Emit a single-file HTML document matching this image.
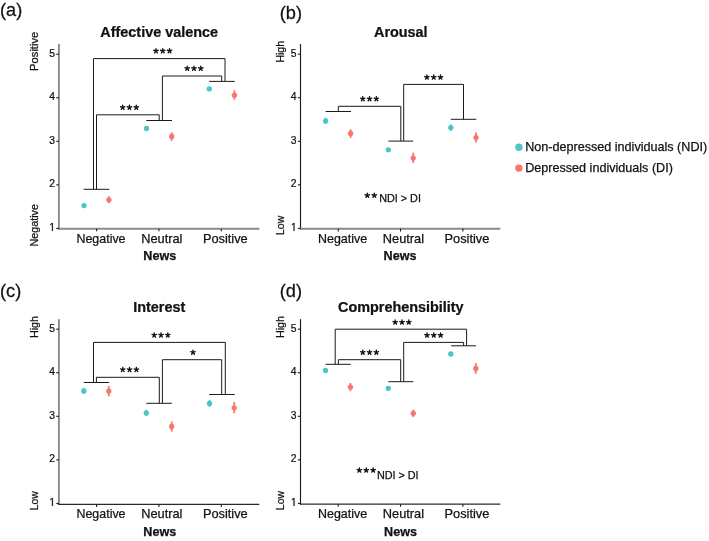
<!DOCTYPE html>
<html><head><meta charset="utf-8"><style>
html,body{margin:0;padding:0;background:#fff;}
svg{display:block;font-family:"Liberation Sans", sans-serif;will-change:transform;filter:blur(0.3px);}
text{stroke:#111;stroke-width:0.25px;paint-order:stroke;}
</style></head><body>
<svg width="709" height="541" viewBox="0 0 709 541">
<rect width="709" height="541" fill="#fff"/>
<line x1="58.9" y1="44" x2="58.9" y2="229.65" stroke="#8a8a8a" stroke-width="1.9"/>
<line x1="57.95" y1="228.7" x2="259.4" y2="228.7" stroke="#8a8a8a" stroke-width="1.9"/>
<line x1="56.3" y1="228.4" x2="58.9" y2="228.4" stroke="#1a1a1a" stroke-width="1.1"/>
<path transform="translate(49.34,230.90) scale(0.005054,-0.005615)" d="M515 0L515 1237L197 1010L197 1180L530 1409L696 1409L696 0Z" fill="#111" stroke="#111" stroke-width="44.5"/>
<line x1="56.3" y1="184.85" x2="58.9" y2="184.85" stroke="#1a1a1a" stroke-width="1.1"/>
<text transform="translate(55,187.35) scale(0.9,1)" font-size="11.5" text-anchor="end" font-weight="normal" fill="#111" >2</text>
<line x1="56.3" y1="141.3" x2="58.9" y2="141.3" stroke="#1a1a1a" stroke-width="1.1"/>
<text transform="translate(55,143.8) scale(0.9,1)" font-size="11.5" text-anchor="end" font-weight="normal" fill="#111" >3</text>
<line x1="56.3" y1="97.75" x2="58.9" y2="97.75" stroke="#1a1a1a" stroke-width="1.1"/>
<text transform="translate(55,100.25) scale(0.9,1)" font-size="11.5" text-anchor="end" font-weight="normal" fill="#111" >4</text>
<line x1="56.3" y1="54.2" x2="58.9" y2="54.2" stroke="#1a1a1a" stroke-width="1.1"/>
<text transform="translate(55,56.7) scale(0.9,1)" font-size="11.5" text-anchor="end" font-weight="normal" fill="#111" >5</text>
<line x1="96.6" y1="228.7" x2="96.6" y2="231.3" stroke="#1a1a1a" stroke-width="1.1"/>
<text transform="translate(101,242.7) scale(0.972,1)" font-size="12.8" text-anchor="middle" font-weight="normal" fill="#111" >Negative</text>
<line x1="158.95" y1="228.7" x2="158.95" y2="231.3" stroke="#1a1a1a" stroke-width="1.1"/>
<text x="161.85" y="242.7" font-size="12.8" text-anchor="middle" font-weight="normal" fill="#111" >Neutral</text>
<line x1="221.3" y1="228.7" x2="221.3" y2="231.3" stroke="#1a1a1a" stroke-width="1.1"/>
<text x="225.3" y="242.7" font-size="12.8" text-anchor="middle" font-weight="normal" fill="#111" >Positive</text>
<text x="159.8" y="259.7" font-size="12.6" text-anchor="middle" font-weight="bold" fill="#111" >News</text>
<text transform="translate(159.2,36.6) scale(1.015,1)" font-size="14.2" text-anchor="middle" font-weight="bold" fill="#111" >Affective valence</text>
<text transform="translate(38.1,51.3) rotate(-90) scale(1.0,1)" font-size="11.2" text-anchor="middle" fill="#111">Positive</text>
<text transform="translate(38.1,225.3) rotate(-90) scale(0.96,1)" font-size="11.2" text-anchor="middle" fill="#111">Negative</text>
<text transform="translate(0,15.6) scale(0.985,1)" font-size="18.5" text-anchor="start" font-weight="normal" fill="#111" >(a)</text>
<line x1="83.7" y1="189.3" x2="109.2" y2="189.3" stroke="#1a1a1a" stroke-width="1.0"/>
<line x1="146.3" y1="120.5" x2="172" y2="120.5" stroke="#1a1a1a" stroke-width="1.0"/>
<line x1="209.2" y1="81.4" x2="234.8" y2="81.4" stroke="#1a1a1a" stroke-width="1.0"/>
<polyline points="93.5,189.3 93.5,58.6 225,58.6 225,81.4" fill="none" stroke="#1a1a1a" stroke-width="1.0" stroke-linejoin="round"/>
<polyline points="96.5,189.3 96.5,114.8 159.2,114.8 159.2,120.5" fill="none" stroke="#1a1a1a" stroke-width="1.0" stroke-linejoin="round"/>
<polyline points="162.4,120.5 162.4,76 221.7,76 221.7,81.4" fill="none" stroke="#1a1a1a" stroke-width="1.0" stroke-linejoin="round"/>
<path d="M155.95 50.96L155.95 48.66M155.95 50.96L158.14 50.25M155.95 50.96L157.30 52.83M155.95 50.96L154.60 52.83M155.95 50.96L153.76 50.25" stroke="#111" stroke-width="1.35" stroke-linecap="round" fill="none"/>
<path d="M162.75 50.96L162.75 48.66M162.75 50.96L164.94 50.25M162.75 50.96L164.10 52.83M162.75 50.96L161.40 52.83M162.75 50.96L160.56 50.25" stroke="#111" stroke-width="1.35" stroke-linecap="round" fill="none"/>
<path d="M169.55 50.96L169.55 48.66M169.55 50.96L171.74 50.25M169.55 50.96L170.90 52.83M169.55 50.96L168.20 52.83M169.55 50.96L167.36 50.25" stroke="#111" stroke-width="1.35" stroke-linecap="round" fill="none"/>
<path d="M122.65 107.46L122.65 105.16M122.65 107.46L124.84 106.75M122.65 107.46L124.00 109.33M122.65 107.46L121.30 109.33M122.65 107.46L120.46 106.75" stroke="#111" stroke-width="1.35" stroke-linecap="round" fill="none"/>
<path d="M129.45 107.46L129.45 105.16M129.45 107.46L131.64 106.75M129.45 107.46L130.80 109.33M129.45 107.46L128.10 109.33M129.45 107.46L127.26 106.75" stroke="#111" stroke-width="1.35" stroke-linecap="round" fill="none"/>
<path d="M136.25 107.46L136.25 105.16M136.25 107.46L138.44 106.75M136.25 107.46L137.60 109.33M136.25 107.46L134.90 109.33M136.25 107.46L134.06 106.75" stroke="#111" stroke-width="1.35" stroke-linecap="round" fill="none"/>
<path d="M187.20 68.46L187.20 66.16M187.20 68.46L189.39 67.75M187.20 68.46L188.55 70.33M187.20 68.46L185.85 70.33M187.20 68.46L185.01 67.75" stroke="#111" stroke-width="1.35" stroke-linecap="round" fill="none"/>
<path d="M194.00 68.46L194.00 66.16M194.00 68.46L196.19 67.75M194.00 68.46L195.35 70.33M194.00 68.46L192.65 70.33M194.00 68.46L191.81 67.75" stroke="#111" stroke-width="1.35" stroke-linecap="round" fill="none"/>
<path d="M200.80 68.46L200.80 66.16M200.80 68.46L202.99 67.75M200.80 68.46L202.15 70.33M200.80 68.46L199.45 70.33M200.80 68.46L198.61 67.75" stroke="#111" stroke-width="1.35" stroke-linecap="round" fill="none"/>
<circle cx="84" cy="205.6" r="2.65" fill="#4cc5c4"/>
<line x1="108.9" y1="196.2" x2="108.9" y2="203.3" stroke="#f8766d" stroke-width="1.8"/>
<circle cx="108.9" cy="199.8" r="2.65" fill="#f8766d"/>
<circle cx="146.5" cy="128.5" r="2.65" fill="#4cc5c4"/>
<line x1="171.7" y1="132.4" x2="171.7" y2="140.9" stroke="#f8766d" stroke-width="1.8"/>
<circle cx="171.7" cy="136.4" r="2.65" fill="#f8766d"/>
<circle cx="209.3" cy="88.9" r="2.65" fill="#4cc5c4"/>
<line x1="234.4" y1="90.3" x2="234.4" y2="99.7" stroke="#f8766d" stroke-width="1.8"/>
<circle cx="234.4" cy="95.2" r="2.65" fill="#f8766d"/>
<line x1="300.5" y1="44" x2="300.5" y2="229.75" stroke="#1c1c1c" stroke-width="1.15"/>
<line x1="299.93" y1="228.8" x2="500.3" y2="228.8" stroke="#8a8a8a" stroke-width="1.9"/>
<line x1="297.9" y1="228.4" x2="300.5" y2="228.4" stroke="#1a1a1a" stroke-width="1.1"/>
<path transform="translate(290.94,230.90) scale(0.005054,-0.005615)" d="M515 0L515 1237L197 1010L197 1180L530 1409L696 1409L696 0Z" fill="#111" stroke="#111" stroke-width="44.5"/>
<line x1="297.9" y1="184.85" x2="300.5" y2="184.85" stroke="#1a1a1a" stroke-width="1.1"/>
<text transform="translate(296.6,187.35) scale(0.9,1)" font-size="11.5" text-anchor="end" font-weight="normal" fill="#111" >2</text>
<line x1="297.9" y1="141.3" x2="300.5" y2="141.3" stroke="#1a1a1a" stroke-width="1.1"/>
<text transform="translate(296.6,143.8) scale(0.9,1)" font-size="11.5" text-anchor="end" font-weight="normal" fill="#111" >3</text>
<line x1="297.9" y1="97.75" x2="300.5" y2="97.75" stroke="#1a1a1a" stroke-width="1.1"/>
<text transform="translate(296.6,100.25) scale(0.9,1)" font-size="11.5" text-anchor="end" font-weight="normal" fill="#111" >4</text>
<line x1="297.9" y1="54.2" x2="300.5" y2="54.2" stroke="#1a1a1a" stroke-width="1.1"/>
<text transform="translate(296.6,56.7) scale(0.9,1)" font-size="11.5" text-anchor="end" font-weight="normal" fill="#111" >5</text>
<line x1="338.2" y1="228.8" x2="338.2" y2="231.4" stroke="#1a1a1a" stroke-width="1.1"/>
<text transform="translate(342.6,242.8) scale(0.972,1)" font-size="12.8" text-anchor="middle" font-weight="normal" fill="#111" >Negative</text>
<line x1="400.55" y1="228.8" x2="400.55" y2="231.4" stroke="#1a1a1a" stroke-width="1.1"/>
<text x="403.45" y="242.8" font-size="12.8" text-anchor="middle" font-weight="normal" fill="#111" >Neutral</text>
<line x1="462.9" y1="228.8" x2="462.9" y2="231.4" stroke="#1a1a1a" stroke-width="1.1"/>
<text x="466.9" y="242.8" font-size="12.8" text-anchor="middle" font-weight="normal" fill="#111" >Positive</text>
<text x="400" y="259.7" font-size="12.6" text-anchor="middle" font-weight="bold" fill="#111" >News</text>
<text transform="translate(400.8,36.6) scale(1.015,1)" font-size="14.2" text-anchor="middle" font-weight="bold" fill="#111" >Arousal</text>
<text transform="translate(283.9,51.8) rotate(-90) scale(0.96,1)" font-size="11.2" text-anchor="middle" fill="#111">High</text>
<text transform="translate(283.9,225.4) rotate(-90) scale(0.93,1)" font-size="11.2" text-anchor="middle" fill="#111">Low</text>
<text transform="translate(279.7,19.1) scale(0.985,1)" font-size="18.5" text-anchor="start" font-weight="normal" fill="#111" >(b)</text>
<line x1="325.6" y1="111.5" x2="351" y2="111.5" stroke="#1a1a1a" stroke-width="1.0"/>
<line x1="388.3" y1="141.1" x2="413.2" y2="141.1" stroke="#1a1a1a" stroke-width="1.0"/>
<line x1="450.8" y1="119.3" x2="476.3" y2="119.3" stroke="#1a1a1a" stroke-width="1.0"/>
<polyline points="338.3,111.5 338.3,106.3 400.8,106.3 400.8,141.1" fill="none" stroke="#1a1a1a" stroke-width="1.0" stroke-linejoin="round"/>
<polyline points="403.7,141.1 403.7,84.4 463.5,84.4 463.5,119.3" fill="none" stroke="#1a1a1a" stroke-width="1.0" stroke-linejoin="round"/>
<path d="M362.75 98.86L362.75 96.56M362.75 98.86L364.94 98.15M362.75 98.86L364.10 100.73M362.75 98.86L361.40 100.73M362.75 98.86L360.56 98.15" stroke="#111" stroke-width="1.35" stroke-linecap="round" fill="none"/>
<path d="M369.55 98.86L369.55 96.56M369.55 98.86L371.74 98.15M369.55 98.86L370.90 100.73M369.55 98.86L368.20 100.73M369.55 98.86L367.36 98.15" stroke="#111" stroke-width="1.35" stroke-linecap="round" fill="none"/>
<path d="M376.35 98.86L376.35 96.56M376.35 98.86L378.54 98.15M376.35 98.86L377.70 100.73M376.35 98.86L375.00 100.73M376.35 98.86L374.16 98.15" stroke="#111" stroke-width="1.35" stroke-linecap="round" fill="none"/>
<path d="M426.90 77.26L426.90 74.96M426.90 77.26L429.09 76.55M426.90 77.26L428.25 79.13M426.90 77.26L425.55 79.13M426.90 77.26L424.71 76.55" stroke="#111" stroke-width="1.35" stroke-linecap="round" fill="none"/>
<path d="M433.70 77.26L433.70 74.96M433.70 77.26L435.89 76.55M433.70 77.26L435.05 79.13M433.70 77.26L432.35 79.13M433.70 77.26L431.51 76.55" stroke="#111" stroke-width="1.35" stroke-linecap="round" fill="none"/>
<path d="M440.50 77.26L440.50 74.96M440.50 77.26L442.69 76.55M440.50 77.26L441.85 79.13M440.50 77.26L439.15 79.13M440.50 77.26L438.31 76.55" stroke="#111" stroke-width="1.35" stroke-linecap="round" fill="none"/>
<line x1="325.6" y1="117.7" x2="325.6" y2="124.1" stroke="#4cc5c4" stroke-width="1.8"/>
<circle cx="325.6" cy="120.9" r="2.65" fill="#4cc5c4"/>
<line x1="350.6" y1="129.2" x2="350.6" y2="138" stroke="#f8766d" stroke-width="1.8"/>
<circle cx="350.6" cy="133.4" r="2.65" fill="#f8766d"/>
<circle cx="388.3" cy="149.8" r="2.65" fill="#4cc5c4"/>
<line x1="413.2" y1="152.7" x2="413.2" y2="163" stroke="#f8766d" stroke-width="1.8"/>
<circle cx="413.2" cy="158.1" r="2.65" fill="#f8766d"/>
<line x1="450.8" y1="124.3" x2="450.8" y2="131" stroke="#4cc5c4" stroke-width="1.8"/>
<circle cx="450.8" cy="127.6" r="2.65" fill="#4cc5c4"/>
<line x1="476" y1="132.5" x2="476" y2="142.6" stroke="#f8766d" stroke-width="1.8"/>
<circle cx="476" cy="137.6" r="2.65" fill="#f8766d"/>
<path d="M367.30 195.46L367.30 193.16M367.30 195.46L369.49 194.75M367.30 195.46L368.65 197.33M367.30 195.46L365.95 197.33M367.30 195.46L365.11 194.75" stroke="#111" stroke-width="1.35" stroke-linecap="round" fill="none"/>
<path d="M374.30 195.46L374.30 193.16M374.30 195.46L376.49 194.75M374.30 195.46L375.65 197.33M374.30 195.46L372.95 197.33M374.30 195.46L372.11 194.75" stroke="#111" stroke-width="1.35" stroke-linecap="round" fill="none"/>
<text x="379.2" y="202.3" font-size="10.8" text-anchor="start" font-weight="normal" fill="#111" >NDI &gt; DI</text>
<line x1="58.9" y1="319.2" x2="58.9" y2="504.95" stroke="#8a8a8a" stroke-width="1.9"/>
<line x1="57.95" y1="504.3" x2="259.3" y2="504.3" stroke="#2a2a2a" stroke-width="1.3"/>
<line x1="56.3" y1="503.4" x2="58.9" y2="503.4" stroke="#1a1a1a" stroke-width="1.1"/>
<path transform="translate(49.34,505.90) scale(0.005054,-0.005615)" d="M515 0L515 1237L197 1010L197 1180L530 1409L696 1409L696 0Z" fill="#111" stroke="#111" stroke-width="44.5"/>
<line x1="56.3" y1="459.85" x2="58.9" y2="459.85" stroke="#1a1a1a" stroke-width="1.1"/>
<text transform="translate(55,462.35) scale(0.9,1)" font-size="11.5" text-anchor="end" font-weight="normal" fill="#111" >2</text>
<line x1="56.3" y1="416.3" x2="58.9" y2="416.3" stroke="#1a1a1a" stroke-width="1.1"/>
<text transform="translate(55,418.8) scale(0.9,1)" font-size="11.5" text-anchor="end" font-weight="normal" fill="#111" >3</text>
<line x1="56.3" y1="372.75" x2="58.9" y2="372.75" stroke="#1a1a1a" stroke-width="1.1"/>
<text transform="translate(55,375.25) scale(0.9,1)" font-size="11.5" text-anchor="end" font-weight="normal" fill="#111" >4</text>
<line x1="56.3" y1="329.2" x2="58.9" y2="329.2" stroke="#1a1a1a" stroke-width="1.1"/>
<text transform="translate(55,331.7) scale(0.9,1)" font-size="11.5" text-anchor="end" font-weight="normal" fill="#111" >5</text>
<line x1="96.6" y1="504.3" x2="96.6" y2="506.9" stroke="#1a1a1a" stroke-width="1.1"/>
<text transform="translate(101,518.3) scale(0.972,1)" font-size="12.8" text-anchor="middle" font-weight="normal" fill="#111" >Negative</text>
<line x1="158.95" y1="504.3" x2="158.95" y2="506.9" stroke="#1a1a1a" stroke-width="1.1"/>
<text x="161.85" y="518.3" font-size="12.8" text-anchor="middle" font-weight="normal" fill="#111" >Neutral</text>
<line x1="221.3" y1="504.3" x2="221.3" y2="506.9" stroke="#1a1a1a" stroke-width="1.1"/>
<text x="225.3" y="518.3" font-size="12.8" text-anchor="middle" font-weight="normal" fill="#111" >Positive</text>
<text x="159.8" y="535.5" font-size="12.6" text-anchor="middle" font-weight="bold" fill="#111" >News</text>
<text transform="translate(159.2,312.1) scale(1.015,1)" font-size="14.2" text-anchor="middle" font-weight="bold" fill="#111" >Interest</text>
<text transform="translate(37.9,327) rotate(-90) scale(0.96,1)" font-size="11.2" text-anchor="middle" fill="#111">High</text>
<text transform="translate(37.9,500.7) rotate(-90) scale(0.93,1)" font-size="11.2" text-anchor="middle" fill="#111">Low</text>
<text transform="translate(0,296.5) scale(0.985,1)" font-size="18.5" text-anchor="start" font-weight="normal" fill="#111" >(c)</text>
<line x1="83.8" y1="382.5" x2="109.1" y2="382.5" stroke="#1a1a1a" stroke-width="1.0"/>
<line x1="146.3" y1="403.3" x2="171.8" y2="403.3" stroke="#1a1a1a" stroke-width="1.0"/>
<line x1="209.2" y1="394.5" x2="234.7" y2="394.5" stroke="#1a1a1a" stroke-width="1.0"/>
<polyline points="93.5,382.5 93.5,342.4 225.3,342.4 225.3,394.5" fill="none" stroke="#1a1a1a" stroke-width="1.0" stroke-linejoin="round"/>
<polyline points="96.4,382.5 96.4,377.3 159.3,377.3 159.3,403.3" fill="none" stroke="#1a1a1a" stroke-width="1.0" stroke-linejoin="round"/>
<polyline points="162.4,403.3 162.4,359.7 221.7,359.7 221.7,394.5" fill="none" stroke="#1a1a1a" stroke-width="1.0" stroke-linejoin="round"/>
<path d="M154.20 335.16L154.20 332.86M154.20 335.16L156.39 334.45M154.20 335.16L155.55 337.03M154.20 335.16L152.85 337.03M154.20 335.16L152.01 334.45" stroke="#111" stroke-width="1.35" stroke-linecap="round" fill="none"/>
<path d="M161.00 335.16L161.00 332.86M161.00 335.16L163.19 334.45M161.00 335.16L162.35 337.03M161.00 335.16L159.65 337.03M161.00 335.16L158.81 334.45" stroke="#111" stroke-width="1.35" stroke-linecap="round" fill="none"/>
<path d="M167.80 335.16L167.80 332.86M167.80 335.16L169.99 334.45M167.80 335.16L169.15 337.03M167.80 335.16L166.45 337.03M167.80 335.16L165.61 334.45" stroke="#111" stroke-width="1.35" stroke-linecap="round" fill="none"/>
<path d="M122.75 369.66L122.75 367.36M122.75 369.66L124.94 368.95M122.75 369.66L124.10 371.53M122.75 369.66L121.40 371.53M122.75 369.66L120.56 368.95" stroke="#111" stroke-width="1.35" stroke-linecap="round" fill="none"/>
<path d="M129.55 369.66L129.55 367.36M129.55 369.66L131.74 368.95M129.55 369.66L130.90 371.53M129.55 369.66L128.20 371.53M129.55 369.66L127.36 368.95" stroke="#111" stroke-width="1.35" stroke-linecap="round" fill="none"/>
<path d="M136.35 369.66L136.35 367.36M136.35 369.66L138.54 368.95M136.35 369.66L137.70 371.53M136.35 369.66L135.00 371.53M136.35 369.66L134.16 368.95" stroke="#111" stroke-width="1.35" stroke-linecap="round" fill="none"/>
<path d="M193.00 352.36L193.00 350.06M193.00 352.36L195.19 351.65M193.00 352.36L194.35 354.23M193.00 352.36L191.65 354.23M193.00 352.36L190.81 351.65" stroke="#111" stroke-width="1.35" stroke-linecap="round" fill="none"/>
<line x1="83.8" y1="387.9" x2="83.8" y2="393.9" stroke="#4cc5c4" stroke-width="1.8"/>
<circle cx="83.8" cy="390.9" r="2.65" fill="#4cc5c4"/>
<line x1="108.8" y1="386" x2="108.8" y2="396.3" stroke="#f8766d" stroke-width="1.8"/>
<circle cx="108.8" cy="391.1" r="2.65" fill="#f8766d"/>
<line x1="146.3" y1="409.8" x2="146.3" y2="416.1" stroke="#4cc5c4" stroke-width="1.8"/>
<circle cx="146.3" cy="413.0" r="2.65" fill="#4cc5c4"/>
<line x1="171.7" y1="421.4" x2="171.7" y2="431.6" stroke="#f8766d" stroke-width="1.8"/>
<circle cx="171.7" cy="426.5" r="2.65" fill="#f8766d"/>
<line x1="209.5" y1="400.1" x2="209.5" y2="406.8" stroke="#4cc5c4" stroke-width="1.8"/>
<circle cx="209.5" cy="403.4" r="2.65" fill="#4cc5c4"/>
<line x1="234.2" y1="402" x2="234.2" y2="413.3" stroke="#f8766d" stroke-width="1.8"/>
<circle cx="234.2" cy="407.8" r="2.65" fill="#f8766d"/>
<line x1="300.5" y1="319.2" x2="300.5" y2="504.85" stroke="#1c1c1c" stroke-width="1.15"/>
<line x1="299.93" y1="504.2" x2="500.3" y2="504.2" stroke="#2a2a2a" stroke-width="1.3"/>
<line x1="297.9" y1="503.4" x2="300.5" y2="503.4" stroke="#1a1a1a" stroke-width="1.1"/>
<path transform="translate(290.94,505.90) scale(0.005054,-0.005615)" d="M515 0L515 1237L197 1010L197 1180L530 1409L696 1409L696 0Z" fill="#111" stroke="#111" stroke-width="44.5"/>
<line x1="297.9" y1="459.85" x2="300.5" y2="459.85" stroke="#1a1a1a" stroke-width="1.1"/>
<text transform="translate(296.6,462.35) scale(0.9,1)" font-size="11.5" text-anchor="end" font-weight="normal" fill="#111" >2</text>
<line x1="297.9" y1="416.3" x2="300.5" y2="416.3" stroke="#1a1a1a" stroke-width="1.1"/>
<text transform="translate(296.6,418.8) scale(0.9,1)" font-size="11.5" text-anchor="end" font-weight="normal" fill="#111" >3</text>
<line x1="297.9" y1="372.75" x2="300.5" y2="372.75" stroke="#1a1a1a" stroke-width="1.1"/>
<text transform="translate(296.6,375.25) scale(0.9,1)" font-size="11.5" text-anchor="end" font-weight="normal" fill="#111" >4</text>
<line x1="297.9" y1="329.2" x2="300.5" y2="329.2" stroke="#1a1a1a" stroke-width="1.1"/>
<text transform="translate(296.6,331.7) scale(0.9,1)" font-size="11.5" text-anchor="end" font-weight="normal" fill="#111" >5</text>
<line x1="338.2" y1="504.2" x2="338.2" y2="506.8" stroke="#1a1a1a" stroke-width="1.1"/>
<text transform="translate(342.6,518.2) scale(0.972,1)" font-size="12.8" text-anchor="middle" font-weight="normal" fill="#111" >Negative</text>
<line x1="400.55" y1="504.2" x2="400.55" y2="506.8" stroke="#1a1a1a" stroke-width="1.1"/>
<text x="403.45" y="518.2" font-size="12.8" text-anchor="middle" font-weight="normal" fill="#111" >Neutral</text>
<line x1="462.9" y1="504.2" x2="462.9" y2="506.8" stroke="#1a1a1a" stroke-width="1.1"/>
<text x="466.9" y="518.2" font-size="12.8" text-anchor="middle" font-weight="normal" fill="#111" >Positive</text>
<text x="400.5" y="536.2" font-size="12.6" text-anchor="middle" font-weight="bold" fill="#111" >News</text>
<text transform="translate(400.8,311.8) scale(1.015,1)" font-size="14.2" text-anchor="middle" font-weight="bold" fill="#111" >Comprehensibility</text>
<text transform="translate(284.1,327) rotate(-90) scale(0.96,1)" font-size="11.2" text-anchor="middle" fill="#111">High</text>
<text transform="translate(284.1,500.6) rotate(-90) scale(0.93,1)" font-size="11.2" text-anchor="middle" fill="#111">Low</text>
<text transform="translate(279.7,296.5) scale(0.985,1)" font-size="18.5" text-anchor="start" font-weight="normal" fill="#111" >(d)</text>
<line x1="325.5" y1="364.3" x2="350.7" y2="364.3" stroke="#1a1a1a" stroke-width="1.0"/>
<line x1="388.3" y1="381.7" x2="413.3" y2="381.7" stroke="#1a1a1a" stroke-width="1.0"/>
<line x1="451.1" y1="345.8" x2="476" y2="345.8" stroke="#1a1a1a" stroke-width="1.0"/>
<polyline points="335.2,364.3 335.2,329.2 466.6,329.2 466.6,345.8" fill="none" stroke="#1a1a1a" stroke-width="1.0" stroke-linejoin="round"/>
<polyline points="338.4,364.3 338.4,359.7 400.7,359.7 400.7,381.7" fill="none" stroke="#1a1a1a" stroke-width="1.0" stroke-linejoin="round"/>
<polyline points="403.7,381.7 403.7,342.4 463.6,342.4 463.6,345.8" fill="none" stroke="#1a1a1a" stroke-width="1.0" stroke-linejoin="round"/>
<path d="M395.20 322.26L395.20 319.96M395.20 322.26L397.39 321.55M395.20 322.26L396.55 324.13M395.20 322.26L393.85 324.13M395.20 322.26L393.01 321.55" stroke="#111" stroke-width="1.35" stroke-linecap="round" fill="none"/>
<path d="M402.00 322.26L402.00 319.96M402.00 322.26L404.19 321.55M402.00 322.26L403.35 324.13M402.00 322.26L400.65 324.13M402.00 322.26L399.81 321.55" stroke="#111" stroke-width="1.35" stroke-linecap="round" fill="none"/>
<path d="M408.80 322.26L408.80 319.96M408.80 322.26L410.99 321.55M408.80 322.26L410.15 324.13M408.80 322.26L407.45 324.13M408.80 322.26L406.61 321.55" stroke="#111" stroke-width="1.35" stroke-linecap="round" fill="none"/>
<path d="M427.00 335.26L427.00 332.96M427.00 335.26L429.19 334.55M427.00 335.26L428.35 337.13M427.00 335.26L425.65 337.13M427.00 335.26L424.81 334.55" stroke="#111" stroke-width="1.35" stroke-linecap="round" fill="none"/>
<path d="M433.80 335.26L433.80 332.96M433.80 335.26L435.99 334.55M433.80 335.26L435.15 337.13M433.80 335.26L432.45 337.13M433.80 335.26L431.61 334.55" stroke="#111" stroke-width="1.35" stroke-linecap="round" fill="none"/>
<path d="M440.60 335.26L440.60 332.96M440.60 335.26L442.79 334.55M440.60 335.26L441.95 337.13M440.60 335.26L439.25 337.13M440.60 335.26L438.41 334.55" stroke="#111" stroke-width="1.35" stroke-linecap="round" fill="none"/>
<path d="M362.75 352.36L362.75 350.06M362.75 352.36L364.94 351.65M362.75 352.36L364.10 354.23M362.75 352.36L361.40 354.23M362.75 352.36L360.56 351.65" stroke="#111" stroke-width="1.35" stroke-linecap="round" fill="none"/>
<path d="M369.55 352.36L369.55 350.06M369.55 352.36L371.74 351.65M369.55 352.36L370.90 354.23M369.55 352.36L368.20 354.23M369.55 352.36L367.36 351.65" stroke="#111" stroke-width="1.35" stroke-linecap="round" fill="none"/>
<path d="M376.35 352.36L376.35 350.06M376.35 352.36L378.54 351.65M376.35 352.36L377.70 354.23M376.35 352.36L375.00 354.23M376.35 352.36L374.16 351.65" stroke="#111" stroke-width="1.35" stroke-linecap="round" fill="none"/>
<circle cx="325.5" cy="370.5" r="2.65" fill="#4cc5c4"/>
<line x1="350.4" y1="383" x2="350.4" y2="391.3" stroke="#f8766d" stroke-width="1.8"/>
<circle cx="350.4" cy="387.1" r="2.65" fill="#f8766d"/>
<circle cx="388.3" cy="388.3" r="2.65" fill="#4cc5c4"/>
<line x1="413.3" y1="409.7" x2="413.3" y2="417" stroke="#f8766d" stroke-width="1.8"/>
<circle cx="413.3" cy="413.3" r="2.65" fill="#f8766d"/>
<circle cx="450.8" cy="354" r="2.65" fill="#4cc5c4"/>
<line x1="475.8" y1="363.2" x2="475.8" y2="373.8" stroke="#f8766d" stroke-width="1.8"/>
<circle cx="475.8" cy="368.4" r="2.65" fill="#f8766d"/>
<path d="M359.35 470.26L359.35 467.96M359.35 470.26L361.54 469.55M359.35 470.26L360.70 472.13M359.35 470.26L358.00 472.13M359.35 470.26L357.16 469.55" stroke="#111" stroke-width="1.35" stroke-linecap="round" fill="none"/>
<path d="M366.25 470.26L366.25 467.96M366.25 470.26L368.44 469.55M366.25 470.26L367.60 472.13M366.25 470.26L364.90 472.13M366.25 470.26L364.06 469.55" stroke="#111" stroke-width="1.35" stroke-linecap="round" fill="none"/>
<path d="M373.15 470.26L373.15 467.96M373.15 470.26L375.34 469.55M373.15 470.26L374.50 472.13M373.15 470.26L371.80 472.13M373.15 470.26L370.96 469.55" stroke="#111" stroke-width="1.35" stroke-linecap="round" fill="none"/>
<text x="376.9" y="478.8" font-size="10.8" text-anchor="start" font-weight="normal" fill="#111" >NDI &gt; DI</text>
<circle cx="518.9" cy="147.3" r="3.7" fill="#4cc5c4"/>
<circle cx="518.9" cy="168.1" r="3.7" fill="#f8766d"/>
<text x="525.2" y="150.9" font-size="12.6" text-anchor="start" font-weight="normal" fill="#111" >Non-depressed individuals (NDI)</text>
<text x="525.2" y="171.5" font-size="12.6" text-anchor="start" font-weight="normal" fill="#111" >Depressed individuals (DI)</text>
</svg>
</body></html>
